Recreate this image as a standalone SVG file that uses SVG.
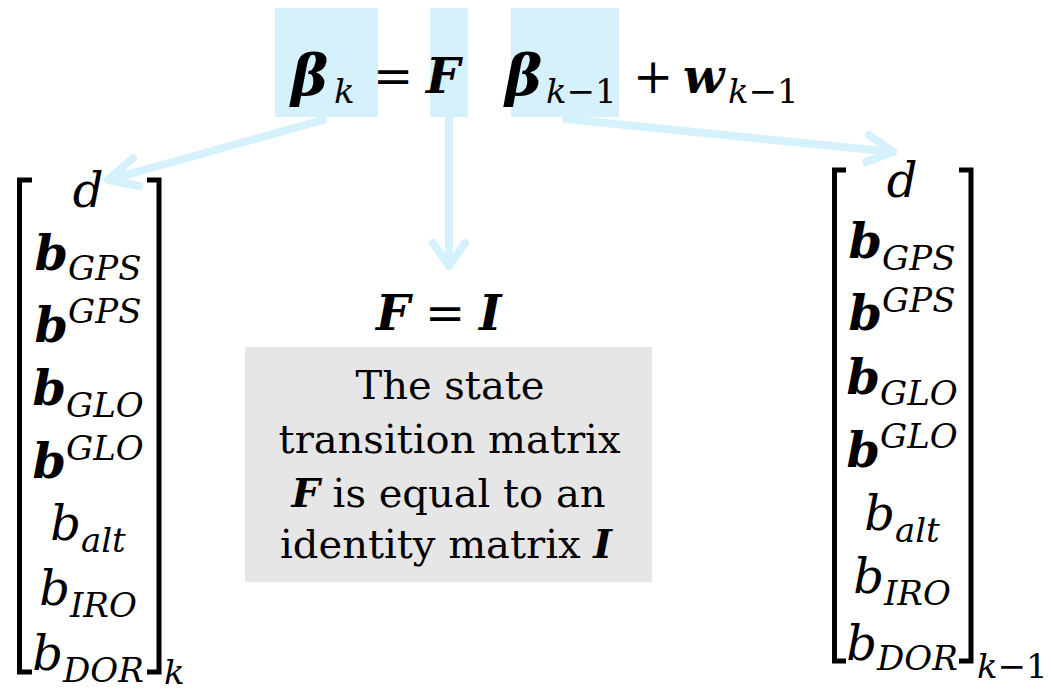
<svg xmlns="http://www.w3.org/2000/svg" width="1051" height="690" viewBox="0 0 1051 690">
<style>
text{font-family:"DejaVu Serif","Liberation Serif",serif;fill:#000}
.m{font-size:48px}
.beta{font-size:56px}
.bi{font-weight:bold;font-style:italic}
.it{font-style:italic}
.sub{font-size:34px;font-style:italic;font-weight:normal}
.up{font-style:normal}
.hl{fill:#d4f1fc}
.arr{fill:none;stroke:#d4f1fc;stroke-width:8;stroke-linecap:round;stroke-linejoin:round}
.br{fill:none;stroke:#000;stroke-width:5;stroke-linejoin:miter}
.body{font-size:40px;text-anchor:middle}
.row{font-size:48px;text-anchor:middle}
</style>
<rect width="1051" height="690" fill="#fff"/>
<g id="equation">
<rect class="hl" x="275" y="8" width="103" height="109"/>
<rect class="hl" x="430" y="8" width="38" height="109"/>
<rect class="hl" x="511" y="8" width="108" height="109"/>
<text class="beta bi" x="291" y="95">β</text>
<text class="sub" x="334" y="103">k</text>
<text class="m" x="373" y="93">=</text>
<text class="m bi" x="426" y="93">F</text>
<text class="beta bi" x="505" y="95">β</text>
<text class="sub" x="546" y="103">k<tspan class="up">−1</tspan></text>
<text class="m" x="633" y="93">+</text>
<text class="m bi" x="683" y="93">w</text>
<text class="sub" x="728" y="103">k<tspan class="up">−1</tspan></text>
</g>
<g id="connectors">
<path class="arr" d="M323,120 L108,180 M133,158 L108,180 L139,186"/>
<path class="arr" d="M449,117 L449,266 M433,243 L449,266 L465,243"/>
<path class="arr" d="M566,119 L893,152 M869,135 L893,152 L866,162"/>
</g>
<g id="matrix-k">
<path class="br" d="M32,180 H19.5 V672 H32"/>
<path class="br" d="M147,180 H159 V672 H147"/>
<text class="row it" x="88" y="207">d</text>
<text class="row bi" x="88" y="270">b<tspan class="sub" dy="10">GPS</tspan></text>
<text class="row bi" x="88" y="342">b<tspan class="sub" dy="-19">GPS</tspan></text>
<text class="row bi" x="88" y="405">b<tspan class="sub" dy="12">GLO</tspan></text>
<text class="row bi" x="88" y="478">b<tspan class="sub" dy="-18">GLO</tspan></text>
<text class="row it" x="88" y="540">b<tspan class="sub" dy="12">alt</tspan></text>
<text class="row it" x="88" y="605">b<tspan class="sub" dy="12">IRO</tspan></text>
<text class="row it" x="88" y="670">b<tspan class="sub" dy="12">DOR</tspan></text>
<text class="sub" x="164" y="684">k</text>
</g>
<g id="matrix-k-1">
<path class="br" d="M846,170 H834.5 V661 H846"/>
<path class="br" d="M959,170 H971 V661 H959"/>
<text class="row it" x="902" y="197">d</text>
<text class="row bi" x="902" y="258">b<tspan class="sub" dy="12">GPS</tspan></text>
<text class="row bi" x="902" y="330">b<tspan class="sub" dy="-18">GPS</tspan></text>
<text class="row bi" x="902" y="394">b<tspan class="sub" dy="11">GLO</tspan></text>
<text class="row bi" x="902" y="467">b<tspan class="sub" dy="-19">GLO</tspan></text>
<text class="row it" x="902" y="530">b<tspan class="sub" dy="12">alt</tspan></text>
<text class="row it" x="902" y="593">b<tspan class="sub" dy="12">IRO</tspan></text>
<text class="row it" x="902" y="660">b<tspan class="sub" dy="10">DOR</tspan></text>
<text class="sub" x="977" y="678">k<tspan class="up">−1</tspan></text>
</g>
<g id="f-equals-i">
<text class="m bi" x="376" y="330">F</text>
<text class="m" x="425" y="330">=</text>
<text class="m bi" x="479" y="330">I</text>
</g>
<g id="note">
<rect x="245" y="347" width="407" height="235" fill="#e7e6e6"/>
<text class="body" x="450" y="399">The state</text>
<text class="body" x="449.5" y="453">transition matrix</text>
<text class="body" x="448.5" y="507"><tspan class="bi">F</tspan> is equal to an</text>
<text class="body" x="446" y="558">identity matrix <tspan class="bi">I</tspan></text>
</g>
</svg>
